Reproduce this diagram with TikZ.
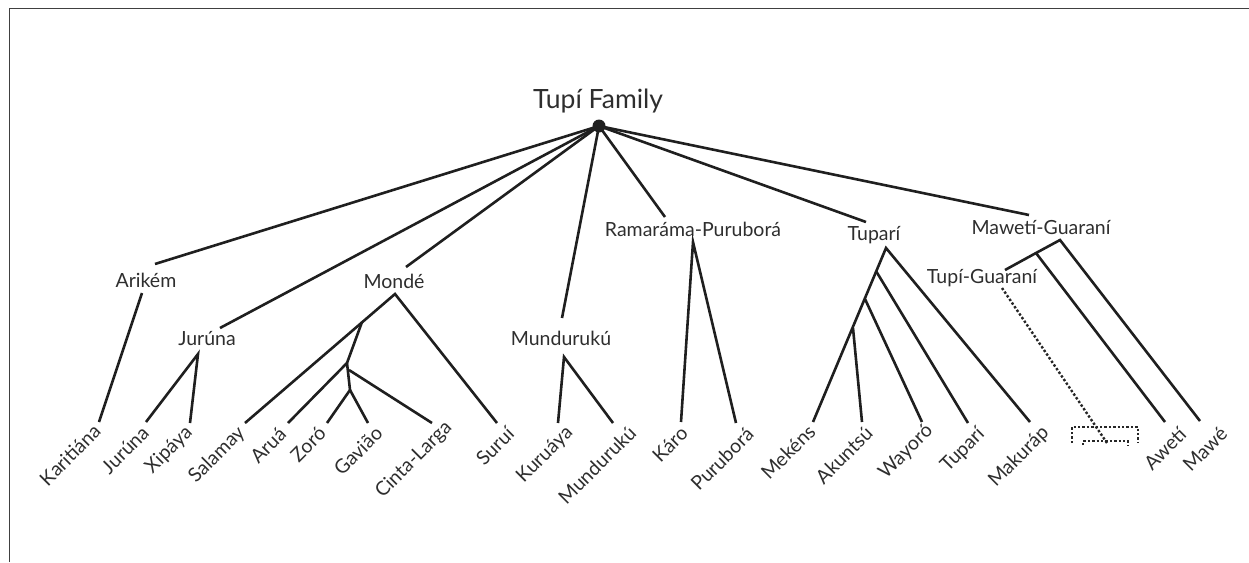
\documentclass[tikz,border=0pt]{standalone}
\usepackage{fontspec}
\setmainfont{Lato}
\begin{document}
\begin{tikzpicture}[x=1pt,y=-1pt,
  edge/.style={line width=2.6pt, draw=black!88},
  dots/.style={line width=2.4pt, draw=black!85, dotted},
  lab/.style={font=\fontsize{19.5}{22}\selectfont, text=black!82, inner sep=0pt},
  leaf/.style={lab, rotate=45},
  frame/.style={line width=1pt, draw=black!75}]
\useasboundingbox (0,0) rectangle (1249,562);
\draw[frame] (9,562) -- (9,8) -- (1249,8);

% root
\coordinate (root) at (599,126);
\fill[black!88] (root) circle (6.5);
\node[lab, font=\fontsize{26.5}{30}\selectfont] (title) at (598,101) {Tupí Family};

% internal labels
\node[lab] (arikem) at (146,280) {Arikém};
\node[lab] (juruna) at (207,339) {Jurúna};
\node[lab] (monde) at (394,281) {Mondé};
\node[lab] (munduruku) at (561,338) {Mundurukú};
\node[lab] (ramarama) at (693,229) {Ramaráma-Puruborá};
\node[lab] (tupari) at (874,235) {Tuparí};
\node[lab] (maweti) at (1041,228) {Mawetí-Guaraní};
\node[lab] (tupig) at (982,278) {Tupí-Guaraní};

% top ends of family branches
\coordinate (ariT) at (155,264);
\coordinate (jurT) at (220,328);
\coordinate (monT) at (406,267);
\coordinate (munT) at (562,318);
\coordinate (ramT) at (665,217);
\coordinate (tupT) at (866,222);
\coordinate (mawT) at (1029,215);
\foreach \c in {ariT,jurT,monT,munT,ramT,tupT,mawT}
  \draw[edge] (root) -- (\c);

% apexes / branch points
\coordinate (ariB) at (142,293);
\coordinate (jurB) at (198,354);
\coordinate (monB) at (395,294);
\coordinate (m1) at (362,322);
\coordinate (m2) at (347,363);
\coordinate (m3) at (349,370);
\coordinate (m4) at (350,390);
\coordinate (munB) at (564,357);
\coordinate (ramB) at (693,242);
\coordinate (tupB) at (886,248);
\coordinate (t1) at (876,271);
\coordinate (t2) at (865,299);
\coordinate (t3) at (853,328);
\coordinate (mawB) at (1060,240);
\coordinate (g1) at (1036,253);
\coordinate (tgT) at (1005,270);
\coordinate (tgB) at (1002,288);

% leaf line ends
\coordinate (eKar) at (99,422);
\coordinate (eJur) at (146,422);
\coordinate (eXip) at (190,423);
\coordinate (eSal) at (245,423);
\coordinate (eAru) at (288,423);
\coordinate (eZor) at (327,423);
\coordinate (eGav) at (368,423);
\coordinate (eCin) at (432,423);
\coordinate (eSur) at (497,423);
\coordinate (eKur) at (558,423);
\coordinate (eMun) at (613,423);
\coordinate (eKar2) at (681,422);
\coordinate (ePur) at (736,423);
\coordinate (eMek) at (813,422);
\coordinate (eAku) at (862,422);
\coordinate (eWay) at (922,422);
\coordinate (eTup) at (968,423);
\coordinate (eMak) at (1030,422);
\coordinate (eAwe) at (1165,422);
\coordinate (eMaw) at (1200,421);
\coordinate (eTG) at (1107,443);

% leaf labels
\node[leaf] (lKar) at (70,455) {Karitiána};
\node[leaf] (lJur) at (125,450) {Jurúna};
\node[leaf] (lXip) at (169,450) {Xipáya};
\node[leaf] (lSal) at (217,455) {Salamay};
\node[leaf] (lAru) at (268,445) {Aruá};
\node[leaf] (lZor) at (308,444) {Zoró};
\node[leaf] (lGav) at (358,451) {Gavião};
\node[leaf] (lCin) at (414,460) {Cinta-Larga};
\node[leaf] (lSur) at (495,446) {Suruí};
\node[leaf] (lKur) at (545,455) {Kuruáya};
\node[leaf] (lMun) at (597,465) {Mundurukú};
\node[leaf] (lKaro) at (670,444) {Káro};
\node[leaf] (lPur) at (722,459) {Puruborá};
\node[leaf] (lMek) at (788,452) {Mekéns};
\node[leaf] (lAku) at (844,455) {Akuntsú};
\node[leaf] (lWay) at (906,452) {Wayoró};
\node[leaf] (lTup) at (963,450) {Tuparí};
\node[leaf] (lMak) at (1019,457) {Makuráp};
\node[leaf] (lAwe) at (1165,449) {Awetí};
\node[leaf] (lMaw) at (1205,449) {Mawé};

% subtrees
\draw[edge] (ariB) -- (eKar);
\draw[edge] (eJur) -- (jurB) -- (eXip);
\draw[edge] (eSal) -- (monB) -- (eSur);
\draw[edge] (m1) -- (m2) -- (eAru);
\draw[edge] (m2) -- (m4);
\draw[edge] (m3) -- (eCin);
\draw[edge] (eZor) -- (m4) -- (eGav);
\draw[edge] (eKur) -- (munB) -- (eMun);
\draw[edge] (eKar2) -- (ramB) -- (ePur);
\draw[edge] (eMek) -- (tupB) -- (eMak);
\draw[edge] (t1) -- (eTup);
\draw[edge] (t2) -- (eWay);
\draw[edge] (t3) -- (eAku);
\draw[edge] (tgT) -- (g1) -- (mawB) -- (eMaw);
\draw[edge] (g1) -- (eAwe);

% dotted Tupi-Guarani
\draw[dots] (tgB) -- (eTG);
\coordinate (bx1) at (1072,443);
\coordinate (bx2) at (1072,427);
\coordinate (bx3) at (1138,427);
\coordinate (bx4) at (1138,443);
\draw[dots] (bx1) -- (bx2) -- (bx3) -- (bx4);
\coordinate (by1) at (1083,445);
\coordinate (by2) at (1083,441);
\coordinate (by3) at (1128,441);
\coordinate (by4) at (1128,445);
\draw[dots] (by1) -- (by2) -- (by3) -- (by4);
\end{tikzpicture}
\end{document}
